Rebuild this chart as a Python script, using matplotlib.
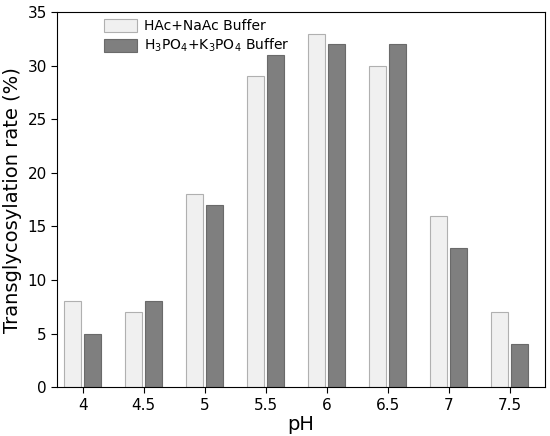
import matplotlib
matplotlib.use("Agg")
import matplotlib.pyplot as plt
import numpy as np

ph_labels = ["4", "4.5", "5", "5.5", "6", "6.5", "7", "7.5"]
hac_naac = [8, 7, 18, 29, 33, 30, 16, 7]
h3po4_k3po4 = [5, 8, 17, 31, 32, 32, 13, 4]

fig = plt.figure(figsize=(5.5, 4.36), dpi=100)
ax = fig.add_axes([0.104, 0.112, 0.887, 0.86])

x = np.arange(len(ph_labels))
w = 0.28
ax.bar(x - w / 2 - 0.025, hac_naac, w, color="#f0f0f0", edgecolor="#b0b0b0",
       linewidth=0.8, label="HAc+NaAc Buffer")
ax.bar(x + w / 2 + 0.025, h3po4_k3po4, w, color="#7f7f7f", edgecolor="#6a6a6a",
       linewidth=0.8, label="H$_3$PO$_4$+K$_3$PO$_4$ Buffer")

ax.set_xlim(-0.42, 7.58)
ax.set_ylim(0, 35)
ax.set_xticks(x)
ax.set_xticklabels(ph_labels)
ax.set_yticks(range(0, 36, 5))
ax.tick_params(labelsize=11, direction="out", length=4)
ax.set_xlabel("pH", fontsize=14, labelpad=2)
ax.set_ylabel("Transglycosylation rate (%)", fontsize=14)
ax.legend(loc="upper left", bbox_to_anchor=(0.07, 1.015), frameon=False,
          fontsize=10, handlelength=2.4, handleheight=1.1, labelspacing=0.25,
          handletextpad=0.5)

fig.savefig("out.png", dpi=100)
